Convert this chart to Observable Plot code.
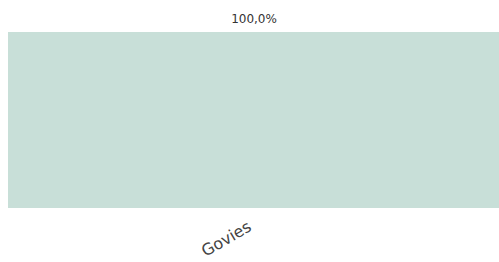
<!DOCTYPE html>
<html>
<head>
<meta charset="utf-8">
<script src="https://cdn.jsdelivr.net/npm/d3@7"></script>
<script src="https://cdn.jsdelivr.net/npm/@observablehq/plot@0.6"></script>
<style>
  html, body { margin: 0; padding: 0; background: #fff; }
  #chart { width: 499px; height: 262px; }
</style>
</head>
<body>
<div id="chart"></div>
<script>
const categories = ["Govies"];
const values = [100.0];
const labels = ["100,0%"];

const data = categories.map((c, i) => ({category: c, value: values[i], label: labels[i]}));

const chart = Plot.plot({
  width: 499,
  height: 262,
  marginLeft: 8,
  marginRight: 0,
  marginTop: 32,
  marginBottom: 54,
  style: {fontFamily: "DejaVu Sans", color: "#333", background: "#fff"},
  x: {domain: categories, padding: 0, label: null},
  y: {domain: [0, 100], axis: null},
  marks: [
    Plot.barY(data, {x: "category", y: "value", fill: "#c8dfd8"}),
    Plot.text(data, {x: "category", y: "value", text: "label", dy: -13, fontSize: 12, fill: "#333"}),
    Plot.axisX({tickRotate: -30, tickSize: 0, tickPadding: 17, fontSize: 16, label: null, fill: "#444", dx: -4})
  ]
});
document.getElementById("chart").appendChild(chart);
</script>
</body>
</html>
